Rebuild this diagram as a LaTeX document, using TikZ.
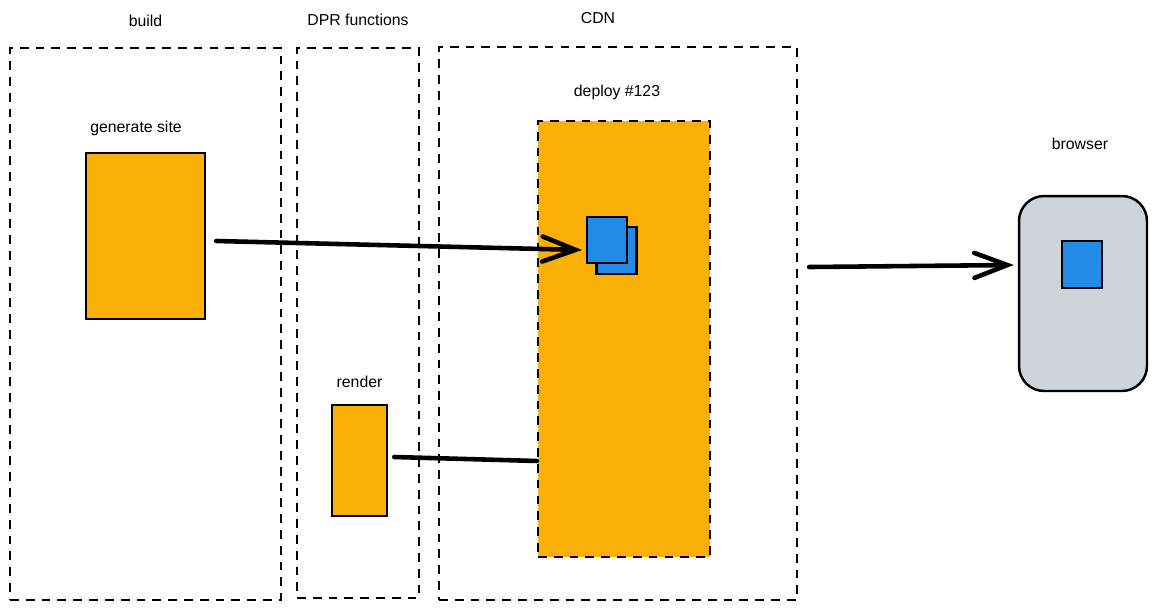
\documentclass[tikz,border=0pt]{standalone}
\usepackage{fontspec}
\setmainfont{Liberation Sans}
\usetikzlibrary{calc}
\usetikzlibrary{arrows.meta, positioning}
\definecolor{deployorange}{HTML}{FAB005}
\definecolor{pageblue}{HTML}{228BE6}
\definecolor{browsergrey}{HTML}{CED4DA}
\tikzstyle{zone} = [rectangle, draw=black, line width=1.3pt, dash pattern=on 5pt off 4pt]
\tikzstyle{block} = [rectangle, fill=deployorange, draw=black, line width=1.4pt]
\tikzstyle{page} = [rectangle, fill=pageblue, draw=black, line width=1.2pt, minimum width=0.8cm, minimum height=0.93cm]
\tikzstyle{caption} = [inner sep=0pt, font=\fontsize{9}{11}\selectfont]
\tikzstyle{arrow} = [line width=2.6pt, line cap=round, -{Straight Barb[length=0.66cm, width=0.5cm, line cap=round]}]
\tikzstyle{link} = [line width=2.6pt, line cap=round]

\begin{document}
\begin{tikzpicture}[x=0.02cm, y=-0.02cm]

    \useasboundingbox (0,0) rectangle (1159,609);

    % Zones
    \node (build) [zone, minimum width=5.42cm, minimum height=11.04cm] at (145.5,324) {};
    \node (dpr) [zone, minimum width=2.44cm, minimum height=11cm] at (358,323) {};
    \node (cdn) [zone, minimum width=7.16cm, minimum height=11.06cm] at (618,323.5) {};

    \node [caption, above=0.4cm of build] {build};
    \node [caption, above=0.42cm of dpr] {DPR functions};
    \node [caption, above=0.44cm of cdn, xshift=-0.4cm] {CDN};

    % Build step
    \node (gensite) [block, minimum width=2.38cm, minimum height=3.32cm] at (145.5,236) {};
    \node [caption, above=0.32cm of gensite, xshift=-0.19cm] {generate site};

    % Render function
    \node (render) [block, minimum width=1.1cm, minimum height=2.22cm] at (359.5,460.5) {};
    \node [caption, above=0.32cm of render] {render};

    % Deploy on the CDN
    \node (deploy) [block, dash pattern=on 5pt off 4pt, minimum width=3.44cm, minimum height=8.72cm] at (624,339) {};
    \node [caption, above=0.4cm of deploy, xshift=-0.14cm] {deploy \#123};
    \node (pageback) [page] at (616.5,250.5) {};
    \node (pagefront) [page] at (607,240) {};

    % Browser
    \node (browser) [rectangle, rounded corners=0.5cm, fill=browsergrey, draw=black, line width=1.4pt, minimum width=2.56cm, minimum height=3.9cm] at (1083,293.5) {};
    \node [caption, above=0.9cm of browser, xshift=-0.06cm] {browser};
    \node (browserpage) [page, minimum height=0.94cm] at (1082,264.5) {};

    \draw [arrow] ([xshift=0.2cm, yshift=-0.1cm]gensite.east) -- ([xshift=-0.08cm, yshift=-0.2cm]pagefront.west);
    \draw [arrow] ([xshift=0.22cm, yshift=1.13cm]cdn.east) -- ([xshift=-0.08cm, yshift=0.57cm]browser.west);
    \draw [link] ([xshift=0.12cm, yshift=0.07cm]render.east) -- ([yshift=-2.44cm]deploy.west);

\end{tikzpicture}
\end{document}
